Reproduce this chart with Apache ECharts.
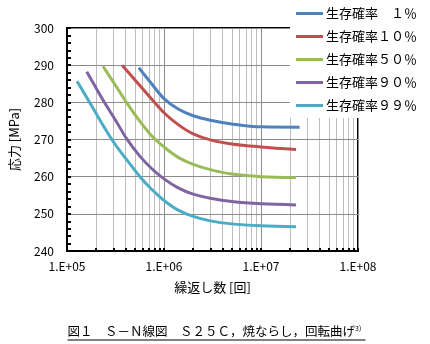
<!DOCTYPE html>
<html><head><meta charset="utf-8">
<script src="https://cdn.jsdelivr.net/npm/echarts@6/dist/echarts.min.js"></script>
<style>html,body{margin:0;padding:0;background:#fff}#c{width:430px;height:344px}</style>
</head><body><div id="c"></div>
<script>
const seriesNames = ['生存確率　１％', '生存確率１０％', '生存確率５０％', '生存確率９０％', '生存確率９９％'];
const n1 = [5.5e5, 7.45e5, 1e6, 1.4e6, 2e6, 3e6, 5e6, 1e7, 2.5e7];
const s1 = [289.3, 285.0, 281.0, 278.2, 276.4, 275.2, 274.2, 273.4, 273.3];
const n2 = [3.7e5, 5e5, 7.45e5, 1e6, 1.4e6, 2e6, 3e6, 5e6, 1e7, 2.3e7];
const s2 = [290.0, 286.1, 280.9, 277.2, 274.0, 271.5, 269.9, 268.8, 268.0, 267.3];
const n3 = [2.35e5, 3.16e5, 4.1e5, 5.6e5, 7.45e5, 1e6, 1.4e6, 2e6, 3e6, 5e6, 1e7, 2.3e7];
const s3 = [289.7, 284.6, 280.0, 275.0, 271.0, 268.0, 265.2, 263.3, 261.9, 260.7, 260.0, 259.8];
const n4 = [1.6e5, 2.4e5, 3.2e5, 4.1e5, 5.6e5, 7.45e5, 1e6, 1.4e6, 2e6, 3e6, 5e6, 1e7, 2.3e7];
const s4 = [288.2, 280.2, 275.0, 270.3, 265.6, 262.2, 259.4, 257.0, 255.3, 254.2, 253.3, 252.7, 252.4];
const n5 = [1.27e5, 1.8e5, 2.9e5, 4e5, 5.65e5, 7.45e5, 1e6, 1.4e6, 2e6, 3e6, 5e6, 1e7, 2.3e7];
const s5 = [285.7, 279.0, 270.0, 265.0, 260.0, 256.6, 253.6, 251.0, 249.3, 248.1, 247.3, 246.8, 246.5];
const xTickLabels = ['1.E+05', '1.E+06', '1.E+07', '1.E+08'];
const minorGridN = [2e5,3e5,4e5,5e5,6e5,7e5,8e5,9e5,2e6,3e6,4e6,5e6,6e6,7e6,8e6,9e6,2e7,3e7,4e7,5e7,6e7,7e7,8e7,9e7];
const colors = ['#4F81BD', '#C0504D', '#9BBB59', '#8064A2', '#4BACC6'];
const xs = [n1, n2, n3, n4, n5];
const ys = [s1, s2, s3, s4, s5];

const FONT = '"Noto Sans CJK JP", "Noto Sans", sans-serif';
const chart = echarts.init(document.getElementById('c'));
chart.setOption({
  animation: false,
  backgroundColor: '#fff',
  textStyle: { fontFamily: FONT },
  color: colors,
  grid: { left: 65, right: 72, top: 28, bottom: 93, show: true, borderColor: '#000', borderWidth: 2, backgroundColor: 'transparent', z: 3 },
  legend: {
    orient: 'vertical', left: 290, top: 0,
    padding: [5, 14, 4, 6], itemGap: 6,
    backgroundColor: '#fff',
    icon: 'rect', itemWidth: 27, itemHeight: 3,
    textStyle: { fontSize: 13, color: '#000', fontFamily: FONT, lineHeight: 17, padding: [0, 0, 0, -2] },
    data: seriesNames, z: 10
  },
  xAxis: [{
    type: 'log', logBase: 10, min: 1e5, max: 1e8,
    name: '繰返し数 [回]', nameLocation: 'middle', nameGap: 30,
    nameTextStyle: { fontSize: 13, color: '#000', fontFamily: FONT },
    axisLine: { show: true, lineStyle: { color: '#000', width: 2 } },
    axisTick: { show: true, inside: true, length: 3, lineStyle: { color: '#000', width: 2 } },
    axisLabel: { fontSize: 12, color: '#000', margin: 9,
      formatter: v => xTickLabels[Math.round(Math.log10(v)) - 5] },
    splitLine: { show: true, lineStyle: { color: '#8c8c8c', width: 1 } },
    z: 4
  }, {
    type: 'value', min: 5, max: 8, position: 'bottom',
    axisLine: { show: false },
    axisLabel: { show: false },
    axisTick: { show: true, inside: true, length: 3, lineStyle: { color: '#000', width: 2 },
      customValues: minorGridN.map(v => Math.log10(v)) },
    splitLine: { show: true, lineStyle: { color: '#bdbdbd', width: 1 } }
  }],
  yAxis: {
    type: 'value', min: 240, max: 300, interval: 10,
    name: '応力 [MPa]', nameLocation: 'middle', nameGap: 46, nameRotate: 90,
    nameTextStyle: { fontSize: 13, color: '#000', fontFamily: FONT },
    axisLine: { show: true, lineStyle: { color: '#000', width: 2 } },
    axisTick: { show: true, inside: true, length: 4, lineStyle: { color: '#000', width: 2 } },
    minorTick: { show: true, splitNumber: 5, length: 4, lineStyle: { color: '#000', width: 2 } },
    axisLabel: { fontSize: 12, color: '#000', margin: 13 },
    splitLine: { show: true, lineStyle: { color: '#8c8c8c', width: 1 } },
    z: 4
  },
  series: seriesNames.map((name, i) => ({
    name, type: 'line', xAxisIndex: 0,
    data: xs[i].map((n, j) => [n, ys[i][j]]),
    showSymbol: false, smooth: 0.35,
    lineStyle: { width: 3, color: colors[i] }, itemStyle: { color: colors[i] },
    z: 5
  })),
  graphic: [{
    type: 'group', left: 65, top: 325,
    children: [
      { type: 'text', left: 0, top: 0,
        style: { text: '{m|図１　Ｓ－Ｎ線図　Ｓ２５Ｃ，焼ならし，回転曲げ}{s|3)}',
          rich: { m: { fontSize: 12.5, fontFamily: FONT, color: '#000' },
                  s: { fontSize: 7, fontFamily: FONT, color: '#000', verticalAlign: 'top', padding: [0,0,6,0] } } } },
      { type: 'line', shape: { x1: 0, y1: 15, x2: 298, y2: 15 }, style: { stroke: '#000', lineWidth: 1 } }
    ]
  }]
});
</script></body></html>
